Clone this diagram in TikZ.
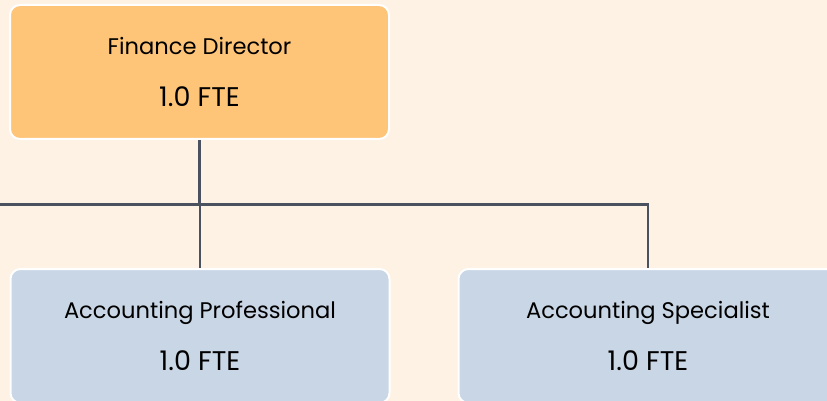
\documentclass[tikz,border=0pt]{standalone}
\usepackage{fontspec}
\setmainfont{Poppins}
\definecolor{bgc}{HTML}{FEF2E4}
\definecolor{orangefill}{HTML}{FEC478}
\definecolor{bluefill}{HTML}{C9D6E5}
\definecolor{linec}{HTML}{4A5260}
\tikzset{
  box/.style={draw=white, line width=2pt, rounded corners=10pt,
    minimum width=379pt, minimum height=134pt, inner sep=0pt,
    align=center, text=black, font=\fontsize{22.6}{52}\selectfont},
  lead/.style={fill=orangefill, box},
  staff/.style={fill=bluefill, box},
  conn/.style={draw=linec, line width=2.8pt}
}
\newcommand{\fte}{{\fontsize{27}{52}\selectfont 1.0 FTE}}
\begin{document}
\begin{tikzpicture}[x=1pt,y=-1pt]
  \clip (0,0) rectangle (827,401);
  \fill[bgc] (0,0) rectangle (827,401);
  \node[lead]  (fd) at (199.5,72) {Finance Director\\\fte};
  \node[staff] (ap) at (200,336) {Accounting Professional\\\fte};
  \node[staff] (as) at (648,336) {Accounting Specialist\\\fte};
  \coordinate (bus) at (199.5,204.5);
  \coordinate (busleft) at (-5,204.5);
  \draw[conn] (fd.south) -- (bus);
  \draw[conn] (busleft) -- (as.north |- bus) -- (as.north);
  \draw[conn] (ap.north) -- (ap.north |- bus);
\end{tikzpicture}
\end{document}
